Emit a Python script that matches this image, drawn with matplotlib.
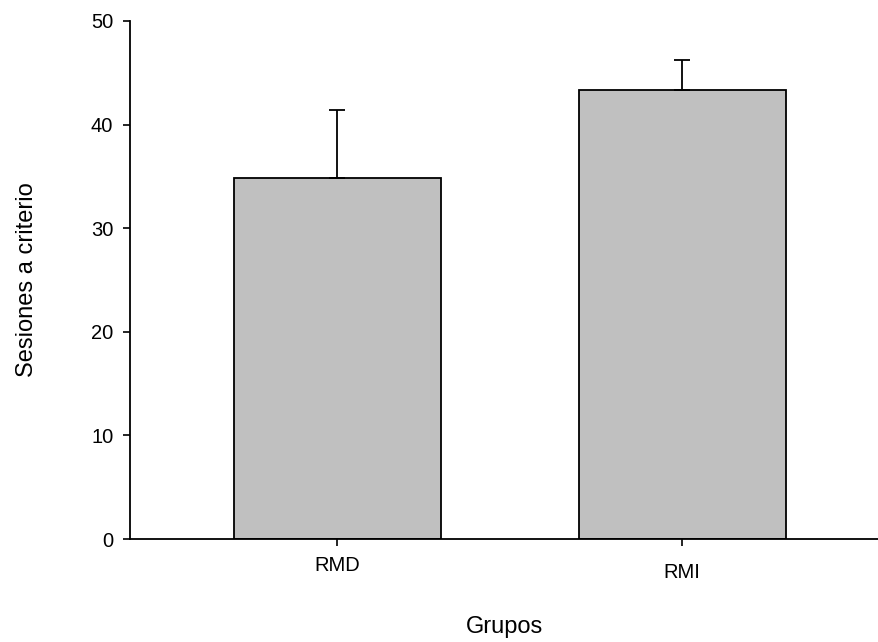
import matplotlib.pyplot as plt
from matplotlib.transforms import ScaledTranslation

plt.rcParams['font.family'] = ['Liberation Sans', 'DejaVu Sans']

grupos = ['RMD', 'RMI']
sesiones = [34.8, 43.3]
error_sup = [6.6, 2.9]

fig = plt.figure(figsize=(8.79, 6.42), dpi=100)
ax = fig.add_axes([0.1479, 0.1604, 0.8521, 0.8069])

x = list(range(len(grupos)))
ax.bar(x, sesiones, width=0.6, color='#c0c0c0', edgecolor='black', linewidth=1.3, zorder=2)
ax.errorbar(x, sesiones, yerr=[[0] * len(x), error_sup], fmt='none',
            ecolor='black', elinewidth=1.3, capsize=5.8, capthick=1.3, zorder=3)

ax.set_xlim(-0.6, 1.571)
ax.set_ylim(0, 50)
ax.set_xticks(x)
ax.set_xticklabels(grupos)
ax.set_yticks([0, 10, 20, 30, 40, 50])

for s in ['top', 'right']:
    ax.spines[s].set_visible(False)
for s in ['left', 'bottom']:
    ax.spines[s].set_linewidth(1.3)

ax.tick_params(axis='y', direction='out', length=5, width=1.2, pad=7, labelsize=14.5)
ax.tick_params(axis='x', direction='out', length=5, width=1.2, pad=7, labelsize=14.5)

# la etiqueta RMI aparece un poco más abajo en el original
lbl = ax.get_xticklabels()[1]
lbl.set_transform(lbl.get_transform() + ScaledTranslation(0, -5 / 72, fig.dpi_scale_trans))

ax.set_xlabel('Grupos', fontsize=17, labelpad=25)
ax.set_ylabel('Sesiones a criterio', fontsize=17, labelpad=38)

fig.savefig('out.png', dpi=100)
